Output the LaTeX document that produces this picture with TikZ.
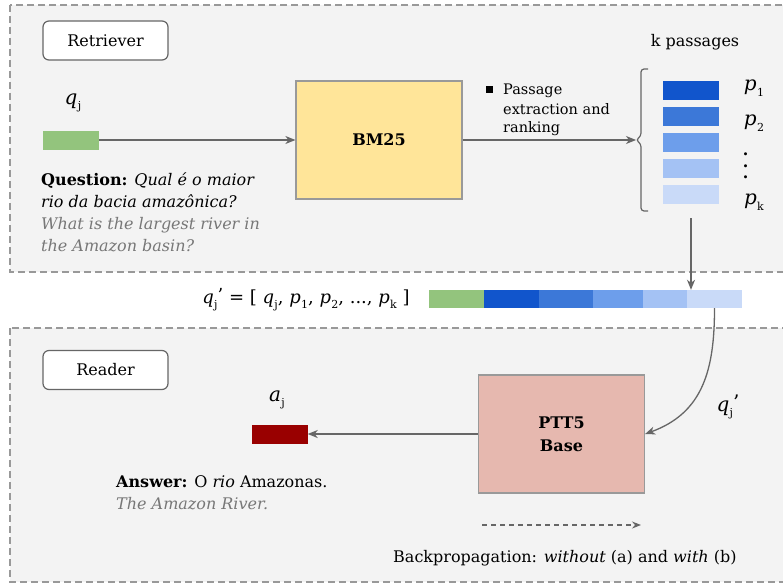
\documentclass[tikz,border=0pt]{standalone}
\usepackage{fontspec}
\setmainfont{DejaVu Serif}
\usetikzlibrary{arrows.meta}
\definecolor{panelbg}{HTML}{F3F3F3}
\definecolor{panelline}{HTML}{999999}
\definecolor{arrowgray}{HTML}{666666}
\definecolor{bmfill}{HTML}{FFE599}
\definecolor{ptfill}{HTML}{E6B8AF}
\definecolor{qgreen}{HTML}{93C47D}
\definecolor{pone}{HTML}{1155CC}
\definecolor{ptwo}{HTML}{3C78D8}
\definecolor{pthree}{HTML}{6D9EEB}
\definecolor{pfour}{HTML}{A4C2F4}
\definecolor{pfive}{HTML}{C9DAF8}
\definecolor{ared}{HTML}{990000}
\definecolor{graytext}{HTML}{777777}
\newcommand{\vsb}[2]{{\itshape #1}\kern0.3pt\raisebox{-0.55ex}{\fontsize{11}{11}\selectfont #2}}
\newcommand{\vsbp}[2]{{\itshape #1}\kern0.3pt\raisebox{-0.55ex}{\fontsize{11}{11}\selectfont #2}\raisebox{0.2ex}{’}}
\begin{document}
\begin{tikzpicture}[x=1pt,y=-1pt,
  font=\fontsize{16}{19}\selectfont,
  panel/.style={draw=panelline, fill=panelbg, line width=1.1pt, dash pattern=on 7pt off 4pt},
  tag/.style={draw=arrowgray, fill=white, rounded corners=6pt, line width=1.2pt, minimum width=125, minimum height=39, inner sep=0},
  model/.style={draw=panelline, line width=1.2pt, minimum width=166, minimum height=118, inner sep=0, font=\fontsize{16}{23}\selectfont\bfseries, align=center},
  blk/.style={inner sep=0, minimum width=56, minimum height=19},
  seg/.style={inner sep=0, minimum height=18},
  arr/.style={draw=arrowgray, line width=1.3pt, -{Stealth[length=10pt,width=8pt,inset=3pt]}},
  lbl/.style={inner sep=0, font=\fontsize{20}{20}\selectfont},
  txt/.style={inner sep=0, anchor=base west},
  small/.style={inner sep=0, anchor=base west, font=\fontsize{14.5}{17}\selectfont}
]
\useasboundingbox (0,0) rectangle (783,583);
\clip (0,0) rectangle (783,583);
\fill[white] (0,0) rectangle (783,583);

% panels
\path[panel] (10,5) rectangle (800,272);
\path[panel] (10,328) rectangle (800,582);

% retriever
\node[tag] (ret) at (105.5,40.5) {Retriever};
\node[lbl] (qlab) at (73,103) {\vsb{q}{j}};
\node[blk, fill=qgreen] (q) at (71,140) {};
\node[model, fill=bmfill] (bm) at (379,140) {BM25};
\draw[arr] (q) -- (bm);

\node[txt] (ql1) at (41,185) {\textbf{Question:} \textit{Qual é o maior}};
\node[txt] (ql2) at (41,207) {\textit{rio da bacia amazônica?}};
\node[txt, text=graytext] (ql3) at (41,229) {\textit{What is the largest river in}};
\node[txt, text=graytext] (ql4) at (41,251) {\textit{the Amazon basin?}};

% brace
\coordinate (btip) at (636,140);
\draw[arrowgray, line width=1.2pt, rounded corners=3pt]
  (648,69) -- (641,69) -- (641,136) -- (btip) -- (641,144) -- (641,211) -- (648,211);
\draw[arr] (bm) -- (btip);

\node[fill=black, inner sep=0, minimum size=7] (bul) at (489.5,90) {};
\node[small] (pe1) at (503,95) {Passage};
\node[small] (pe2) at (503,114) {extraction and};
\node[small] (pe3) at (503,132) {ranking};

\node[txt, anchor=base] (kp) at (695,47) {k passages};
\node[blk, fill=pone] (b1) at (691,90.5) {};
\node[blk, fill=ptwo] (b2) at (691,116.5) {};
\node[blk, fill=pthree] (b3) at (691,142.5) {};
\node[blk, fill=pfour] (b4) at (691,168.5) {};
\node[blk, fill=pfive] (b5) at (691,194.5) {};
\node[lbl] (p1) at (754,88) {\vsb{p}{1}};
\node[lbl] (p2) at (754,123) {\vsb{p}{2}};
\node[inner sep=0, rotate=-90, font=\fontsize{16}{16}\selectfont\bfseries] (pd) at (745.5,166) {.\kern6pt.\kern6pt.};
\node[lbl] (pk) at (754,202) {\vsb{p}{k}};

% concatenation
\node[lbl, font=\fontsize{18}{18}\selectfont] (qprime) at (306,300)
  {\vsbp{q}{j} = [ \vsb{q}{j}, \vsb{p}{1}, \vsb{p}{2}, ..., \vsb{p}{k} ]};
\node[seg, fill=qgreen, minimum width=55] (s0) at (456.5,299) {};
\node[seg, fill=pone, minimum width=55] (s1) at (511.5,299) {};
\node[seg, fill=ptwo, minimum width=54] (s2) at (566,299) {};
\node[seg, fill=pthree, minimum width=50] (s3) at (618,299) {};
\node[seg, fill=pfour, minimum width=44] (s4) at (665,299) {};
\node[seg, fill=pfive, minimum width=55] (s5) at (714.5,299) {};
\coordinate (dtop) at (691,218);
\draw[arr] (dtop) -- (dtop |- s5.north);

% reader
\node[tag] (rea) at (105.5,370) {Reader};
\node[model, fill=ptfill] (pt) at (561.5,434) {PTT5\\Base};
\draw[arr] (s5.south) to[out=-90, in=20, looseness=1.1] (pt.east);
\node[lbl] (qpl) at (728,407) {\vsbp{q}{j}};
\node[blk, fill=ared] (a) at (279.5,434) {};
\node[lbl] (alab) at (277,400) {\vsb{a}{j}};
\draw[arr] (pt) -- (a);

\node[txt] (al1) at (116,487) {\textbf{Answer:} O \textit{rio} Amazonas.};
\node[txt, text=graytext] (al2) at (116,509) {\textit{The Amazon River.}};

\coordinate (bpa) at (482,525);
\coordinate (bpb) at (641,525);
\draw[draw=arrowgray, line width=1.2pt, dash pattern=on 5pt off 4pt, -{Stealth[length=9pt,width=7pt,inset=3pt]}] (bpa) -- (bpb);
\node[txt] (bp) at (393,562) {Backpropagation: \textit{without} (a) and \textit{with} (b)};
\end{tikzpicture}
\end{document}
